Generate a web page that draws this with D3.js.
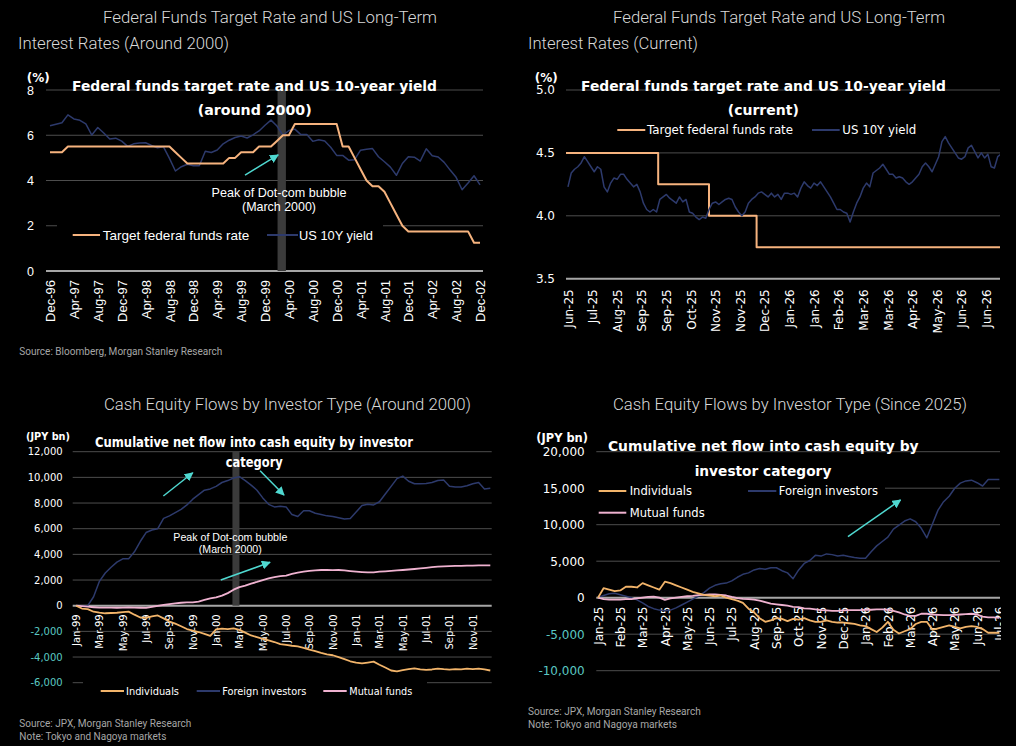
<!DOCTYPE html>
<html>
<head>
<meta charset="utf-8">
<script src="https://cdn.jsdelivr.net/npm/d3@7"></script>
<style>
  body { margin: 0; background: #000; }
  svg { display: block; }
</style>
</head>
<body>
<div id="chart"></div>
<script>
// ---------------- data ----------------

// Panel 1: monthly, Dec-96 .. Dec-02
const fedTarget2000 = [
  5.25, 5.25, 5.25, 5.50, 5.50, 5.50, 5.50, 5.50, 5.50, 5.50, 5.50, 5.50, 5.50,
  5.50, 5.50, 5.50, 5.50, 5.50, 5.50, 5.50, 5.50, 5.25, 5.00, 4.75, 4.75,
  4.75, 4.75, 4.75, 4.75, 4.75, 5.00, 5.00, 5.25, 5.25, 5.25, 5.50, 5.50,
  5.50, 5.75, 6.00, 6.00, 6.50, 6.50, 6.50, 6.50, 6.50, 6.50, 6.50, 6.50,
  5.50, 5.50, 5.00, 4.50, 4.00, 3.75, 3.75, 3.50, 3.00, 2.50, 2.00, 1.75,
  1.75, 1.75, 1.75, 1.75, 1.75, 1.75, 1.75, 1.75, 1.75, 1.75, 1.25, 1.25
];
const ust10y2000 = [
  6.42, 6.49, 6.55, 6.90, 6.72, 6.66, 6.50, 6.01, 6.34, 6.10, 5.83, 5.87, 5.74,
  5.51, 5.62, 5.66, 5.67, 5.55, 5.45, 5.49, 4.98, 4.42, 4.61, 4.72, 4.65,
  4.65, 5.29, 5.24, 5.35, 5.62, 5.78, 5.90, 5.97, 5.88, 6.02, 6.19, 6.44,
  6.67, 6.41, 6.00, 6.21, 6.27, 6.03, 6.03, 5.73, 5.80, 5.75, 5.47, 5.11,
  5.11, 4.90, 4.92, 5.34, 5.38, 5.41, 5.05, 4.83, 4.59, 4.23, 4.75, 5.05,
  5.03, 4.86, 5.40, 5.09, 5.04, 4.80, 4.46, 4.14, 3.59, 3.89, 4.21, 3.81
];
const p1TickLabels = ["Dec-96", "Apr-97", "Aug-97", "Dec-97", "Apr-98", "Aug-98", "Dec-98",
  "Apr-99", "Aug-99", "Dec-99", "Apr-00", "Aug-00", "Dec-00", "Apr-01", "Aug-01", "Dec-01",
  "Apr-02", "Aug-02", "Dec-02"];
const p1Peak = [38.1, 39.5];   // Mar-2000, months after Dec-96

// Panel 2: US 10Y every 2nd business day from 30-Jun-25
const ust10yNow = [
  4.23, 4.34, 4.37, 4.39, 4.42, 4.47, 4.43, 4.39, 4.35, 4.39,
  4.37, 4.23, 4.19, 4.26, 4.30, 4.29, 4.33, 4.33, 4.29, 4.26,
  4.23, 4.25, 4.19, 4.10, 4.05, 4.03, 4.05, 4.03, 4.13, 4.15,
  4.17, 4.14, 4.12, 4.10, 4.15, 4.11, 4.13, 4.03, 4.02, 3.99,
  3.97, 3.99, 3.98, 4.05, 4.10, 4.11, 4.09, 4.11, 4.13, 4.14,
  4.13, 4.07, 4.03, 4.00, 4.03, 4.10, 4.13, 4.15, 4.18, 4.19,
  4.17, 4.15, 4.18, 4.15, 4.17, 4.13, 4.18, 4.18, 4.17, 4.18,
  4.15, 4.22, 4.27, 4.24, 4.22, 4.26, 4.24, 4.27, 4.23, 4.19,
  4.15, 4.10, 4.05, 4.05, 4.03, 4.02, 3.95, 4.03, 4.10, 4.15,
  4.22, 4.26, 4.23, 4.34, 4.36, 4.38, 4.41, 4.37, 4.33, 4.33,
  4.30, 4.31, 4.30, 4.27, 4.25, 4.27, 4.30, 4.33, 4.39, 4.42,
  4.39, 4.35, 4.41, 4.47, 4.59, 4.63, 4.58, 4.54, 4.50, 4.46,
  4.45, 4.47, 4.54, 4.56, 4.51, 4.46, 4.50, 4.46, 4.49, 4.39,
  4.38, 4.47, 4.49
];
// [business day index, upper target]
const fedStepsNow = [[-1.2, 4.50], [55, 4.25], [86, 4.00], [115, 3.75], [263.4, 3.75]];
const p2TickLabels = ["Jun-25", "Jul-25", "Aug-25", "Sep-25", "Sep-25", "Oct-25", "Nov-25", "Nov-25",
  "Dec-25", "Jan-26", "Jan-26", "Feb-26", "Mar-26", "Mar-26", "Apr-26", "May-26", "Jun-26", "Jun-26"];

// Panel 3: cumulative flows (JPY bn), half-monthly from Jan-99
const individuals2000 = [
  0, -220, -270, -470, -540, -590, -570, -550, -500, -460,
  -700, -920, -950, -840, -760, -990, -1230, -1400, -1600, -1820,
  -1940, -2050, -2200, -2350, -1850, -1780, -1830, -1770, -1880, -2100,
  -2320, -2450, -2580, -2700, -2830, -2990, -3050, -3120, -3170, -3280,
  -3420, -3540, -3680, -3790, -3860, -4000, -4170, -4330, -4440, -4490,
  -4430, -4360, -4600, -4820, -5050, -5120, -5020, -4950, -4890, -4960,
  -5000, -4970, -4900, -4950, -4980, -4940, -4960, -4910, -4950, -4900,
  -4970, -5050
];
const foreign2000 = [
  0, 0, 0, 700, 1900, 2550, 3000, 3400, 3650, 3650,
  4200, 5000, 5700, 5900, 6000, 6800, 7000, 7250, 7500, 7850,
  8300, 8650, 9000, 9100, 9300, 9600, 9750, 9950, 10050, 9750,
  9400, 9000, 8400, 7900, 7700, 7750, 7700, 7100, 6950, 7400,
  7400, 7200, 7100, 7000, 6950, 6850, 6750, 6800, 7300, 7800,
  7900, 7850, 8100, 8700, 9300, 9900, 10100, 9700, 9500, 9500,
  9520, 9600, 9750, 9800, 9300, 9250, 9250, 9350, 9500, 9600,
  9100, 9150
];
const mutual2000 = [
  0, -30, -80, -120, -150, -150, -150, -160, -150, -140,
  -150, -160, -170, -100, -20, 60, 120, 180, 230, 260,
  260, 320, 450, 570, 650, 780, 980, 1250, 1450, 1560,
  1720, 1850, 2000, 2120, 2220, 2300, 2350, 2480, 2580, 2650,
  2720, 2760, 2780, 2780, 2770, 2780, 2750, 2700, 2660, 2620,
  2590, 2600, 2650, 2680, 2720, 2750, 2780, 2820, 2860, 2910,
  2950, 3000, 3040, 3060, 3080, 3100, 3110, 3120, 3130, 3140,
  3150, 3150
];
const p3TickLabels = ["Jan-99", "Mar-99", "May-99", "Jul-99", "Sep-99", "Nov-99", "Jan-00", "Mar-00",
  "May-00", "Jul-00", "Sep-00", "Nov-00", "Jan-01", "Mar-01", "May-01", "Jul-01", "Sep-01", "Nov-01"];
const p3Peak = [13.4, 14.0];   // months after Jan-99

// Panel 4: cumulative flows (JPY bn), quarter-monthly from Jan-25
const individuals2025 = [
  0, 1300, 1100, 900, 1000, 1500, 1500, 1400, 2000, 1700,
  1400, 1100, 2200, 2000, 1700, 1400, 1100, 800, 600, 400,
  300, 200, 300, 0, -200, -400, -700, -1500, -2000, -2800,
  -3300, -3100, -2800, -2900, -3200, -2900, -3000, -2800, -3100, -3300,
  -3300, -3100, -3300, -3400, -3400, -3500, -3600, -3800, -3900, -4300,
  -4700, -4100, -3300, -4400, -4900, -4600, -4300, -3600, -3300, -3300,
  -4400, -4200, -4000, -3800, -4000, -4200, -4000, -3900, -4000, -4300,
  -4800, -4800, -4800
];
const foreign2025 = [
  0, 300, 550, 600, 400, 200, 0, -300, -700, -1200,
  -1500, -1700, -1800, -1700, -1400, -1000, -600, -200, 200, 700,
  1300, 1700, 1900, 2000, 2300, 2800, 3200, 3400, 3800, 4000,
  3900, 4100, 4100, 3700, 3400, 2600, 3800, 4700, 5100, 5800,
  5700, 6000, 5900, 5700, 5800, 5650, 5500, 5400, 5400, 6300,
  7100, 7700, 8300, 9400, 9950, 10500, 10800, 10400, 9500, 8200,
  10100, 12000, 13150, 13900, 15000, 15700, 16000, 16100, 15750, 15300,
  16200, 16200, 16200
];
const mutual2025 = [
  0, -200, -250, -250, -250, -200, -200, -100, 0, 100,
  150, 0, -300, -100, 0, 100, 200, 250, 350, 400,
  450, 450, 400, 300, 100, -50, -150, -200, -250, -400,
  -600, -800, -900, -1000, -1100, -1250, -1300, -1450, -1500, -1600,
  -1700, -1750, -1800, -1800, -1750, -1700, -1700, -1700, -1650, -1650,
  -1600, -1600, -1650, -1800, -2000, -2300, -2500, -2500, -2200, -2200,
  -2300, -2350, -2400, -2400, -2350, -2300, -2250, -2200, -2300, -2600,
  -2700, -2700, -2750
];
const p4TickLabels = ["Jan-25", "Feb-25", "Mar-25", "Apr-25", "May-25", "Jun-25", "Jul-25", "Aug-25",
  "Sep-25", "Oct-25", "Nov-25", "Dec-25", "Jan-26", "Feb-26", "Mar-26", "Apr-26", "May-26",
  "Jun-26", "Jul-26"];

// ---------------- styling ----------------
const ORANGE = "#f6b37e", GOLD = "#f2b46a", NAVY = "#2d3a6c", PINK = "#efb2d0";
const CYAN = "#4fd8d0", TEAL = "#5ac8c3";
const ARIAL = "'Liberation Sans', Arial, sans-serif";
const VERD = "'DejaVu Sans', Verdana, sans-serif";
const HEAD = "Roboto, 'Open Sans', sans-serif";

const svg = d3.select("#chart").append("svg")
  .attr("width", 1016)
  .attr("height", 746)
  .style("background", "#000");

const defs = svg.append("defs");
defs.append("marker")
  .attr("id", "head")
  .attr("viewBox", "0 0 10 10")
  .attr("refX", 9).attr("refY", 5)
  .attr("markerWidth", 9).attr("markerHeight", 9)
  .attr("markerUnits", "userSpaceOnUse")
  .attr("orient", "auto")
  .append("path").attr("d", "M0,0L10,5L0,10z").attr("fill", CYAN);

function txt(g, s, x, y, o = {}) {
  const t = g.append("text")
    .attr("x", x).attr("y", y)
    .attr("fill", o.fill || "#fff")
    .attr("text-anchor", o.anchor || "start")
    .style("font-family", o.font || ARIAL)
    .style("font-size", (o.size || 12) + "px")
    .style("font-weight", o.weight || 400)
    .text(s);
  if (o.w) t.attr("textLength", o.w).attr("lengthAdjust", "spacingAndGlyphs");
  return t;
}

let clipId = 0;
function panel(o) {
  const g = svg.append("g");
  const x = d3.scaleLinear().domain(o.xDomain).range(o.xRange);
  const y = d3.scaleLinear().domain(o.yDomain).range(o.yRange);
  const [x0, x1] = o.xRange;

  const cid = "clip" + (clipId++);
  defs.append("clipPath").attr("id", cid)
    .append("rect")
    .attr("x", x0).attr("y", o.yRange[1] - 5)
    .attr("width", x1 - x0).attr("height", o.yRange[0] - o.yRange[1] + 10);

  // gridlines
  g.append("g").selectAll("line")
    .data(o.yTicks.filter(d => d !== o.base))
    .join("line")
    .attr("x1", x0).attr("x2", x1)
    .attr("y1", d => y(d)).attr("y2", d => y(d))
    .attr("stroke", "#4d4d4d")
    .attr("stroke-width", 1);

  g.append("line")
    .attr("x1", x0).attr("x2", x1)
    .attr("y1", y(o.base)).attr("y2", y(o.base))
    .attr("stroke", "#a6a6a6")
    .attr("stroke-width", 2);

  // legend background hides the gridline behind it
  if (o.legendBox) {
    const b = o.legendBox;
    g.append("rect").attr("x", b[0]).attr("y", b[1]).attr("width", b[2]).attr("height", b[3]).attr("fill", "#000");
  }

  // grey band for the dot-com peak
  if (o.band) {
    g.append("rect")
      .attr("x", x(o.band[0]))
      .attr("width", x(o.band[1]) - x(o.band[0]))
      .attr("y", y(o.bandTop))
      .attr("height", y(o.base) - y(o.bandTop))
      .attr("fill", "#3b3b3b");
  }

  // y tick labels
  const yAxis = g.append("g")
    .attr("transform", `translate(${x0},0)`)
    .call(d3.axisLeft(y).tickValues(o.yTicks).tickSize(0).tickPadding(o.yPad).tickFormat(o.yFormat));
  yAxis.select(".domain").remove();
  yAxis.selectAll("text")
    .attr("fill", d => d < 0 ? TEAL : "#fff")
    .style("font-family", o.tickFont)
    .style("font-size", o.ySize + "px");

  // x tick labels, rotated
  const xAxis = g.append("g")
    .attr("transform", `translate(0,${y(o.base)})`)
    .call(d3.axisBottom(x).tickValues(o.xTicks).tickSize(0).tickFormat((d, i) => o.xLabels[i]));
  xAxis.select(".domain").remove();
  xAxis.selectAll("text")
    .attr("transform", "rotate(-90)")
    .attr("x", -o.xPad).attr("y", 0).attr("dy", "0.35em")
    .attr("text-anchor", "end")
    .attr("fill", "#fff")
    .style("font-family", o.tickFont)
    .style("font-size", o.xSize + "px");

  // series
  const lines = g.append("g").attr("clip-path", `url(#${cid})`);
  o.series.forEach(s => {
    const line = d3.line()
      .x(d => x(d[0]))
      .y(d => y(d[1]))
      .curve(s.curve || d3.curveLinear);
    lines.append("path")
      .datum(s.points)
      .attr("d", line)
      .attr("fill", "none")
      .attr("stroke", s.color)
      .attr("stroke-width", s.width || 1.5)
      .attr("stroke-linejoin", "round");
  });

  return { g, x, y, xAxis };
}

function legendItem(g, x1, x2, y, color, label, tx, w, font, size) {
  g.append("line").attr("x1", x1).attr("x2", x2).attr("y1", y).attr("y2", y)
    .attr("stroke", color).attr("stroke-width", 2);
  txt(g, label, tx, y + size * 0.36, { font: font, size: size, w: w });
}

function arrow(p, a) {
  p.g.append("line")
    .attr("x1", p.x(a[0][0])).attr("y1", p.y(a[0][1]))
    .attr("x2", p.x(a[1][0])).attr("y2", p.y(a[1][1]))
    .attr("stroke", CYAN)
    .attr("stroke-width", 1.5)
    .attr("marker-end", "url(#head)");
}

const comma = d => d3.format(",")(d).replace("\u2212", "-");

// ---------------- panel 1 ----------------
const p1 = panel({
  xDomain: [-0.67, 72.5], xRange: [46, 483],
  yDomain: [0, 8], yRange: [271, 90],
  yTicks: [0, 2, 4, 6, 8], base: 0,
  yPad: 12, yFormat: d3.format("d"), ySize: 12.5, tickFont: ARIAL,
  xTicks: d3.range(0, 73, 4), xLabels: p1TickLabels, xPad: 9, xSize: 13,
  band: p1Peak, bandTop: 8,
  legendBox: [57, 220, 326, 30],
  series: [
    { points: ust10y2000.map((v, i) => [i, v]), color: NAVY, width: 1.5 },
    { points: fedTarget2000.map((v, i) => [i, v]), color: ORANGE, width: 2 }
  ]
});
txt(p1.g, "Federal Funds Target Rate and US Long-Term", 103, 23, { font: HEAD, size: 16, weight: 300, fill: "#d9d9d9", w: 334 });
txt(p1.g, "Interest Rates (Around 2000)", 18, 49, { font: HEAD, size: 16, weight: 300, fill: "#d9d9d9", w: 211 });
txt(p1.g, "(%)", 26.7, 82, { font: VERD, size: 12, weight: 700, w: 23 });
txt(p1.g, "Federal funds target rate and US 10-year yield", 254.5, 91, { font: VERD, size: 14, weight: 700, anchor: "middle", w: 365 });
txt(p1.g, "(around 2000)", 254.7, 115, { font: VERD, size: 14, weight: 700, anchor: "middle", w: 114 });
txt(p1.g, "Peak of Dot-com bubble", 279, 196.5, { font: ARIAL, size: 12.2, anchor: "middle", w: 135 });
txt(p1.g, "(March 2000)", 279, 210.5, { font: ARIAL, size: 12.2, anchor: "middle", w: 74 });
legendItem(p1.g, 72.7, 100, 235, ORANGE, "Target federal funds rate", 102.7, 146.7, ARIAL, 13);
legendItem(p1.g, 267, 298, 235, NAVY, "US 10Y yield", 299, 74, ARIAL, 13);
arrow(p1, [[32.65, 4.24], [38.2, 5.13]]);
txt(p1.g, "Source: Bloomberg, Morgan Stanley Research", 19.3, 355, { font: HEAD, size: 10, fill: "#a6a6a6", w: 203 });

// ---------------- panel 2 ----------------
const p2 = panel({
  xDomain: [-1.2, 263.4], xRange: [566, 1000],
  yDomain: [3.5, 5.0], yRange: [278.7, 90],
  yTicks: [3.5, 4.0, 4.5, 5.0], base: 3.5,
  yPad: 11, yFormat: d3.format(".1f"), ySize: 12, tickFont: VERD,
  xTicks: d3.range(0, 256, 15), xLabels: p2TickLabels, xPad: 10.6, xSize: 12,
  series: [
    { points: fedStepsNow, color: ORANGE, width: 2, curve: d3.curveStepAfter },
    { points: ust10yNow.map((v, i) => [i * 2, v]), color: NAVY, width: 1.5 }
  ]
});
txt(p2.g, "Federal Funds Target Rate and US Long-Term", 613, 23, { font: HEAD, size: 16, weight: 300, fill: "#d9d9d9", w: 332 });
txt(p2.g, "Interest Rates (Current)", 528, 49, { font: HEAD, size: 16, weight: 300, fill: "#d9d9d9", w: 170 });
txt(p2.g, "(%)", 534.7, 82, { font: VERD, size: 12, weight: 700, w: 23 });
txt(p2.g, "Federal funds target rate and US 10-year yield", 763.5, 91, { font: VERD, size: 14, weight: 700, anchor: "middle", w: 365 });
txt(p2.g, "(current)", 763.3, 115, { font: VERD, size: 14, weight: 700, anchor: "middle", w: 71 });
legendItem(p2.g, 617.3, 645.3, 130, ORANGE, "Target federal funds rate", 647, 146, VERD, 12);
legendItem(p2.g, 812, 839.7, 130, NAVY, "US 10Y yield", 842.3, 74, VERD, 12);

// ---------------- panel 3 ----------------
const p3 = panel({
  xDomain: [-0.29, 35.62], xRange: [72.7, 491.7],
  yDomain: [-6000, 12000], yRange: [682.7, 451.7],
  yTicks: d3.range(-6000, 12001, 2000), base: 0,
  yPad: 10, yFormat: comma, ySize: 10, tickFont: VERD,
  xTicks: d3.range(0, 35, 2), xLabels: p3TickLabels, xPad: 8.6, xSize: 10,
  band: p3Peak, bandTop: 12000,
  legendBox: [83, 680, 344, 22],
  series: [
    { points: foreign2000.map((v, i) => [i / 2, v]), color: NAVY, width: 1.5 },
    { points: mutual2000.map((v, i) => [i / 2, v]), color: PINK, width: 1.8 },
    { points: individuals2000.map((v, i) => [i / 2, v]), color: GOLD, width: 1.8 }
  ]
});
txt(p3.g, "Cash Equity Flows by Investor Type (Around 2000)", 104, 410, { font: HEAD, size: 16, weight: 300, fill: "#d9d9d9", w: 367 });
txt(p3.g, "(JPY bn)", 26, 440, { font: VERD, size: 11, weight: 700, w: 44 });
txt(p3.g, "Cumulative net flow into cash equity by investor", 254, 447, { font: VERD, size: 13.5, weight: 700, anchor: "middle", w: 318 });
txt(p3.g, "category", 254.3, 466.5, { font: VERD, size: 13.5, weight: 700, anchor: "middle", w: 57 });
txt(p3.g, "Peak of Dot-com bubble", 230.3, 540.5, { font: ARIAL, size: 11, anchor: "middle", w: 114 });
txt(p3.g, "(March 2000)", 230.3, 552.5, { font: ARIAL, size: 11, anchor: "middle", w: 63 });
legendItem(p3.g, 100.7, 124, 691, GOLD, "Individuals", 126, 53, VERD, 11);
legendItem(p3.g, 196.7, 220, 691, NAVY, "Foreign investors", 222.3, 84, VERD, 11);
legendItem(p3.g, 323.3, 346.7, 691, PINK, "Mutual funds", 349.3, 63, VERD, 11);
arrow(p3, [[7.48, 8550], [10.0, 10360]]);
arrow(p3, [[15.77, 10520], [17.82, 8620]]);
arrow(p3, [[12.4, 2000], [16.62, 3380]]);
txt(p3.g, "Source: JPX, Morgan Stanley Research", 19.3, 727, { font: HEAD, size: 10, fill: "#a6a6a6", w: 172 });
txt(p3.g, "Note: Tokyo and Nagoya markets", 19.3, 739.5, { font: HEAD, size: 10, fill: "#a6a6a6", w: 147 });

// ---------------- panel 4 ----------------
const p4 = panel({
  xDomain: [-0.076, 18.03], xRange: [596.3, 1000],
  yDomain: [-10000, 20000], yRange: [670.7, 451.7],
  yTicks: d3.range(-10000, 20001, 5000), base: 0,
  yPad: 11.6, yFormat: comma, ySize: 12, tickFont: VERD,
  xTicks: d3.range(0, 19), xLabels: p4TickLabels, xPad: 9, xSize: 12,
  legendBox: [593, 478, 292, 45],
  series: [
    { points: foreign2025.map((v, i) => [i / 4, v]), color: NAVY, width: 1.5 },
    { points: mutual2025.map((v, i) => [i / 4, v]), color: PINK, width: 1.8 },
    { points: individuals2025.map((v, i) => [i / 4, v]), color: GOLD, width: 1.8 }
  ]
});
// last month label is cut at the right edge
defs.append("clipPath").attr("id", "p4lab")
  .append("rect").attr("x", 0).attr("y", 0).attr("width", 1001).attr("height", 746);
p4.xAxis.attr("clip-path", "url(#p4lab)");

txt(p4.g, "Cash Equity Flows by Investor Type (Since 2025)", 613, 410, { font: HEAD, size: 16, weight: 300, fill: "#d9d9d9", w: 354 });
txt(p4.g, "(JPY bn)", 536.3, 442, { font: VERD, size: 12, weight: 700, w: 51.7 });
txt(p4.g, "Cumulative net flow into cash equity by", 763.3, 451, { font: VERD, size: 14, weight: 700, anchor: "middle", w: 310.7 });
txt(p4.g, "investor category", 763, 476, { font: VERD, size: 14, weight: 700, anchor: "middle", w: 136.7 });
legendItem(p4.g, 598.7, 626.3, 491, GOLD, "Individuals", 629.7, 62.3, VERD, 12);
legendItem(p4.g, 748, 776.3, 491, NAVY, "Foreign investors", 778.7, 99.3, VERD, 12);
legendItem(p4.g, 598.7, 626.3, 512.7, PINK, "Mutual funds", 629.7, 75, VERD, 12);
arrow(p4, [[11.21, 8360], [13.57, 13390]]);
txt(p4.g, "Source: JPX, Morgan Stanley Research", 528, 715, { font: HEAD, size: 10, fill: "#a6a6a6", w: 172.7 });
txt(p4.g, "Note: Tokyo and Nagoya markets", 528, 728, { font: HEAD, size: 10, fill: "#a6a6a6", w: 149 });
</script>
</body>
</html>
